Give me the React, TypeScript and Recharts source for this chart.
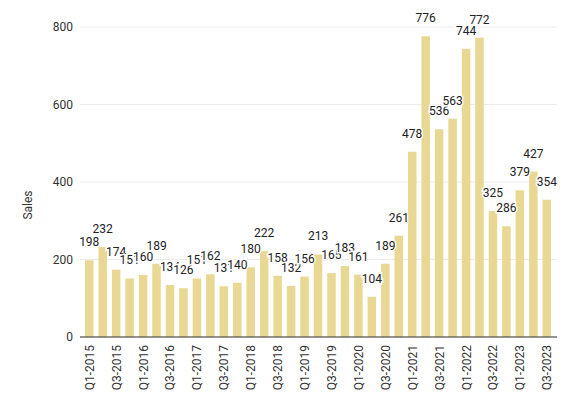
import { BarChart, Bar, XAxis, YAxis, CartesianGrid, LabelList } from "recharts";

const quarters = [
  "Q1-2015", "Q2-2015", "Q3-2015", "Q4-2015",
  "Q1-2016", "Q2-2016", "Q3-2016", "Q4-2016",
  "Q1-2017", "Q2-2017", "Q3-2017", "Q4-2017",
  "Q1-2018", "Q2-2018", "Q3-2018", "Q4-2018",
  "Q1-2019", "Q2-2019", "Q3-2019", "Q4-2019",
  "Q1-2020", "Q2-2020", "Q3-2020", "Q4-2020",
  "Q1-2021", "Q2-2021", "Q3-2021", "Q4-2021",
  "Q1-2022", "Q2-2022", "Q3-2022", "Q4-2022",
  "Q1-2023", "Q2-2023", "Q3-2023",
];

const sales = [
  198, 232, 174, 151,
  160, 189, 134, 126,
  151, 162, 131, 140,
  180, 222, 158, 132,
  156, 213, 165, 183,
  161, 104, 189, 261,
  478, 776, 536, 563,
  744, 772, 325, 286,
  379, 427, 354,
];

const yTicks = [0, 200, 400, 600, 800];

const data = quarters.map((q, i) => ({ quarter: q, sales: sales[i] }));

const FONT = "Roboto, 'Liberation Sans', Arial, sans-serif";

function QuarterTick({ x, y, payload }: any) {
  return (
    <g transform={`translate(${x},${y})`}>
      <text
        transform="rotate(-90)"
        textAnchor="end"
        dominantBaseline="central"
        fontSize={12}
        fontFamily={FONT}
        fill="#333"
      >
        {payload.value}
      </text>
    </g>
  );
}

function SalesLabel({ viewBox }: any) {
  // centred over plot + rotated tick labels, like the source
  const cx = 28;
  const cy = viewBox.y + viewBox.height / 2 + 23;
  return (
    <text
      x={cx}
      y={cy}
      transform={`rotate(-90, ${cx}, ${cy})`}
      textAnchor="middle"
      dominantBaseline="central"
      fontSize={12}
      fontFamily={FONT}
      fill="#333"
    >
      Sales
    </text>
  );
}

export default function App() {
  return (
    <div style={{ position: "fixed", left: 0, top: 0, width: 577, height: 412, background: "#fff" }}>
      <BarChart
        width={577}
        height={412}
        data={data}
        margin={{ top: 27, right: 20, bottom: 0, left: 0 }}
      >
        <CartesianGrid vertical={false} stroke="#ebebeb" />
        <XAxis
          dataKey="quarter"
          interval={1}
          height={75}
          tickLine={false}
          axisLine={{ stroke: "#333" }}
          padding={{ left: 3, right: 3 }}
          tick={<QuarterTick />}
        />
        <YAxis
          width={80}
          domain={[0, 800]}
          ticks={yTicks}
          axisLine={false}
          tickLine={false}
          tickMargin={1}
          tick={{ fill: "#333", fontSize: 12, fontFamily: FONT }}
          label={<SalesLabel />}
        />
        <Bar dataKey="sales" fill="#e8d893" barSize={8.5} isAnimationActive={false}>
          <LabelList
            dataKey="sales"
            position="top"
            offset={14}
            fill="#222"
            fontSize={12}
            fontFamily={FONT}
            stroke="#fff"
            strokeWidth={3}
            style={{ paintOrder: "stroke" }}
          />
        </Bar>
      </BarChart>
    </div>
  );
}
